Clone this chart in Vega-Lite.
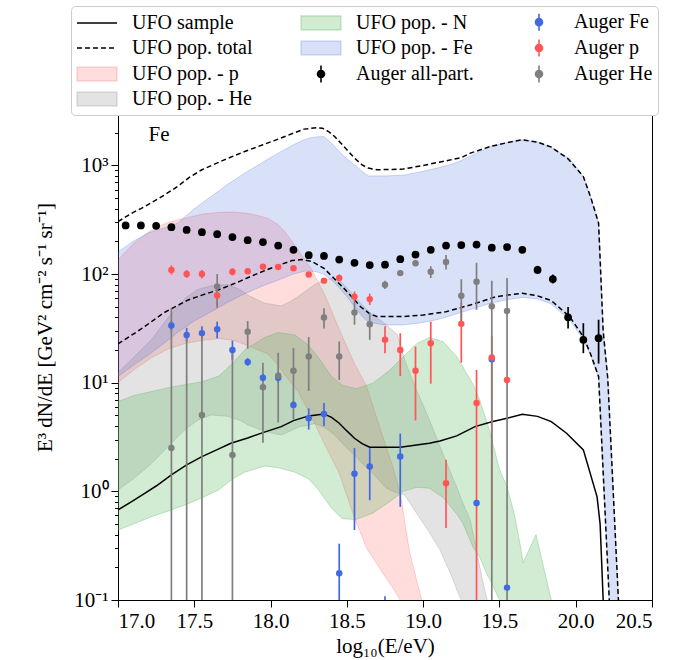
{
  "$schema": "https://vega.github.io/schema/vega-lite/v6.json",
  "width": 534,
  "height": 500,
  "autosize": {"type": "none"},
  "padding": {"left": 118, "top": 100, "right": 21, "bottom": 60},
  "background": "white",
  "config": {
    "font": "Liberation Serif",
    "view": {"stroke": "black", "strokeWidth": 1},
    "axis": {"grid": false, "domainColor": "black", "domainWidth": 1, "tickColor": "black", "tickWidth": 1, "labelColor": "black", "titleColor": "black", "labelFont": "Liberation Serif", "titleFont": "Liberation Serif", "labelFontSize": 21, "titleFontSize": 21, "titleFontWeight": "normal"}
  },
  "datasets": {
    "bands": [
      {"band": "p", "E": 17.0, "lo": 10, "hi": 135},
      {"band": "p", "E": 17.1, "lo": 13, "hi": 190},
      {"band": "p", "E": 17.22, "lo": 17, "hi": 255},
      {"band": "p", "E": 17.33, "lo": 20.5, "hi": 300},
      {"band": "p", "E": 17.44, "lo": 23, "hi": 327},
      {"band": "p", "E": 17.55, "lo": 24.5, "hi": 355},
      {"band": "p", "E": 17.66, "lo": 25.5, "hi": 370},
      {"band": "p", "E": 17.76, "lo": 24.5, "hi": 372},
      {"band": "p", "E": 17.85, "lo": 22, "hi": 362},
      {"band": "p", "E": 17.92, "lo": 20, "hi": 345},
      {"band": "p", "E": 17.98, "lo": 18.5, "hi": 327},
      {"band": "p", "E": 18.05, "lo": 14.5, "hi": 285},
      {"band": "p", "E": 18.1, "lo": 11.5, "hi": 240},
      {"band": "p", "E": 18.18, "lo": 8.3, "hi": 167},
      {"band": "p", "E": 18.27, "lo": 4.8, "hi": 110},
      {"band": "p", "E": 18.36, "lo": 2.6, "hi": 62},
      {"band": "p", "E": 18.45, "lo": 1.47, "hi": 31},
      {"band": "p", "E": 18.55, "lo": 0.57, "hi": 15},
      {"band": "p", "E": 18.63, "lo": 0.3, "hi": 9.2},
      {"band": "p", "E": 18.72, "lo": 0.19, "hi": 3.7},
      {"band": "p", "E": 18.8, "lo": 0.13, "hi": 1.7},
      {"band": "p", "E": 18.85, "lo": 0.1, "hi": 0.96},
      {"band": "p", "E": 18.91, "lo": 0.07, "hi": 0.28},
      {"band": "p", "E": 18.99, "lo": 0.05, "hi": 0.1},
      {"band": "p", "E": 19.01, "lo": 0.05, "hi": 0.07},
      {"band": "He", "E": 17.0, "lo": 1.03, "hi": 12.4},
      {"band": "He", "E": 17.1, "lo": 1.3, "hi": 17},
      {"band": "He", "E": 17.22, "lo": 1.8, "hi": 25},
      {"band": "He", "E": 17.33, "lo": 2.6, "hi": 40},
      {"band": "He", "E": 17.44, "lo": 3.7, "hi": 60},
      {"band": "He", "E": 17.52, "lo": 4.5, "hi": 72},
      {"band": "He", "E": 17.61, "lo": 5.05, "hi": 78},
      {"band": "He", "E": 17.72, "lo": 4.9, "hi": 80},
      {"band": "He", "E": 17.8, "lo": 4.5, "hi": 72},
      {"band": "He", "E": 17.85, "lo": 4.1, "hi": 64},
      {"band": "He", "E": 17.96, "lo": 3.57, "hi": 54},
      {"band": "He", "E": 18.07, "lo": 3.3, "hi": 51},
      {"band": "He", "E": 18.13, "lo": 3.6, "hi": 56},
      {"band": "He", "E": 18.18, "lo": 3.9, "hi": 62},
      {"band": "He", "E": 18.26, "lo": 4.1, "hi": 75},
      {"band": "He", "E": 18.29, "lo": 4.2, "hi": 80},
      {"band": "He", "E": 18.35, "lo": 3.9, "hi": 88},
      {"band": "He", "E": 18.41, "lo": 3.4, "hi": 92},
      {"band": "He", "E": 18.45, "lo": 2.97, "hi": 88},
      {"band": "He", "E": 18.5, "lo": 2.5, "hi": 75},
      {"band": "He", "E": 18.56, "lo": 2.09, "hi": 60},
      {"band": "He", "E": 18.6, "lo": 1.8, "hi": 52},
      {"band": "He", "E": 18.67, "lo": 1.47, "hi": 42},
      {"band": "He", "E": 18.75, "lo": 1.1, "hi": 35},
      {"band": "He", "E": 18.78, "lo": 1.03, "hi": 32},
      {"band": "He", "E": 18.83, "lo": 0.97, "hi": 28},
      {"band": "He", "E": 18.88, "lo": 0.92, "hi": 16},
      {"band": "He", "E": 18.95, "lo": 0.65, "hi": 9},
      {"band": "He", "E": 19.0, "lo": 0.51, "hi": 6.2},
      {"band": "He", "E": 19.04, "lo": 0.42, "hi": 4.6},
      {"band": "He", "E": 19.11, "lo": 0.29, "hi": 2.6},
      {"band": "He", "E": 19.2, "lo": 0.15, "hi": 1.27},
      {"band": "He", "E": 19.22, "lo": 0.124, "hi": 1.1},
      {"band": "He", "E": 19.25, "lo": 0.1, "hi": 0.85},
      {"band": "He", "E": 19.31, "lo": 0.06, "hi": 0.54},
      {"band": "He", "E": 19.39, "lo": 0.05, "hi": 0.15},
      {"band": "He", "E": 19.42, "lo": 0.05, "hi": 0.1},
      {"band": "He", "E": 19.44, "lo": 0.05, "hi": 0.07},
      {"band": "N", "E": 17.0, "lo": 0.44, "hi": 6.7},
      {"band": "N", "E": 17.1, "lo": 0.5, "hi": 7.6},
      {"band": "N", "E": 17.22, "lo": 0.585, "hi": 8.3},
      {"band": "N", "E": 17.33, "lo": 0.66, "hi": 9.0},
      {"band": "N", "E": 17.44, "lo": 0.75, "hi": 9.6},
      {"band": "N", "E": 17.55, "lo": 0.87, "hi": 10.2},
      {"band": "N", "E": 17.66, "lo": 1.03, "hi": 11.5},
      {"band": "N", "E": 17.75, "lo": 1.3, "hi": 15},
      {"band": "N", "E": 17.83, "lo": 1.5, "hi": 20},
      {"band": "N", "E": 17.96, "lo": 1.71, "hi": 26},
      {"band": "N", "E": 18.05, "lo": 1.65, "hi": 29},
      {"band": "N", "E": 18.16, "lo": 1.5, "hi": 27.5},
      {"band": "N", "E": 18.25, "lo": 1.3, "hi": 22},
      {"band": "N", "E": 18.31, "lo": 1.05, "hi": 17.4},
      {"band": "N", "E": 18.4, "lo": 0.7, "hi": 11.4},
      {"band": "N", "E": 18.47, "lo": 0.56, "hi": 9.5},
      {"band": "N", "E": 18.56, "lo": 0.55, "hi": 8.8},
      {"band": "N", "E": 18.67, "lo": 0.63, "hi": 9.9},
      {"band": "N", "E": 18.78, "lo": 0.8, "hi": 13},
      {"band": "N", "E": 18.87, "lo": 1.0, "hi": 17.4},
      {"band": "N", "E": 18.96, "lo": 1.09, "hi": 23},
      {"band": "N", "E": 19.04, "lo": 1.07, "hi": 26},
      {"band": "N", "E": 19.13, "lo": 0.88, "hi": 23.9},
      {"band": "N", "E": 19.22, "lo": 0.62, "hi": 17.4},
      {"band": "N", "E": 19.26, "lo": 0.51, "hi": 14},
      {"band": "N", "E": 19.33, "lo": 0.3, "hi": 9.5},
      {"band": "N", "E": 19.37, "lo": 0.25, "hi": 7},
      {"band": "N", "E": 19.42, "lo": 0.17, "hi": 4.24},
      {"band": "N", "E": 19.44, "lo": 0.153, "hi": 3.4},
      {"band": "N", "E": 19.5, "lo": 0.1, "hi": 1.6},
      {"band": "N", "E": 19.55, "lo": 0.07, "hi": 1.1},
      {"band": "N", "E": 19.6, "lo": 0.05, "hi": 0.6},
      {"band": "N", "E": 19.64, "lo": 0.05, "hi": 0.3},
      {"band": "N", "E": 19.655, "lo": 0.05, "hi": 0.22},
      {"band": "N", "E": 19.74, "lo": 0.05, "hi": 0.4},
      {"band": "N", "E": 19.84, "lo": 0.05, "hi": 0.1},
      {"band": "N", "E": 19.86, "lo": 0.05, "hi": 0.07},
      {"band": "Fe", "E": 17.0, "lo": 11.4, "hi": 160},
      {"band": "Fe", "E": 17.1, "lo": 14.5, "hi": 200},
      {"band": "Fe", "E": 17.2, "lo": 18, "hi": 240},
      {"band": "Fe", "E": 17.3, "lo": 23, "hi": 265},
      {"band": "Fe", "E": 17.39, "lo": 29, "hi": 294},
      {"band": "Fe", "E": 17.5, "lo": 37, "hi": 400},
      {"band": "Fe", "E": 17.61, "lo": 45, "hi": 517},
      {"band": "Fe", "E": 17.72, "lo": 55, "hi": 670},
      {"band": "Fe", "E": 17.83, "lo": 66, "hi": 849},
      {"band": "Fe", "E": 17.94, "lo": 77, "hi": 1050},
      {"band": "Fe", "E": 18.05, "lo": 88, "hi": 1297},
      {"band": "Fe", "E": 18.15, "lo": 100, "hi": 1550},
      {"band": "Fe", "E": 18.22, "lo": 106, "hi": 1720},
      {"band": "Fe", "E": 18.25, "lo": 107, "hi": 1783},
      {"band": "Fe", "E": 18.3, "lo": 105, "hi": 1830},
      {"band": "Fe", "E": 18.35, "lo": 99, "hi": 1845},
      {"band": "Fe", "E": 18.41, "lo": 86, "hi": 1550},
      {"band": "Fe", "E": 18.46, "lo": 72, "hi": 1297},
      {"band": "Fe", "E": 18.5, "lo": 62, "hi": 1150},
      {"band": "Fe", "E": 18.55, "lo": 50, "hi": 1013},
      {"band": "Fe", "E": 18.6, "lo": 41, "hi": 880},
      {"band": "Fe", "E": 18.64, "lo": 36, "hi": 801},
      {"band": "Fe", "E": 18.75, "lo": 34, "hi": 801},
      {"band": "Fe", "E": 18.87, "lo": 34, "hi": 812},
      {"band": "Fe", "E": 18.98, "lo": 35.5, "hi": 870},
      {"band": "Fe", "E": 19.09, "lo": 38, "hi": 945},
      {"band": "Fe", "E": 19.17, "lo": 41, "hi": 1010},
      {"band": "Fe", "E": 19.24, "lo": 44, "hi": 1090},
      {"band": "Fe", "E": 19.35, "lo": 49, "hi": 1297},
      {"band": "Fe", "E": 19.44, "lo": 54, "hi": 1493},
      {"band": "Fe", "E": 19.55, "lo": 58, "hi": 1620},
      {"band": "Fe", "E": 19.65, "lo": 61, "hi": 1721},
      {"band": "Fe", "E": 19.75, "lo": 59, "hi": 1640},
      {"band": "Fe", "E": 19.84, "lo": 53, "hi": 1472},
      {"band": "Fe", "E": 19.96, "lo": 38, "hi": 1150},
      {"band": "Fe", "E": 20.05, "lo": 25, "hi": 790},
      {"band": "Fe", "E": 20.1, "lo": 17.5, "hi": 500},
      {"band": "Fe", "E": 20.15, "lo": 11, "hi": 294},
      {"band": "Fe", "E": 20.18, "lo": 1.4, "hi": 30},
      {"band": "Fe", "E": 20.21, "lo": 0.2, "hi": 11},
      {"band": "Fe", "E": 20.22, "lo": 0.1, "hi": 6},
      {"band": "Fe", "E": 20.24, "lo": 0.05, "hi": 1.5},
      {"band": "Fe", "E": 20.28, "lo": 0.05, "hi": 0.1},
      {"band": "Fe", "E": 20.3, "lo": 0.05, "hi": 0.07}
    ],
    "total": [
      {"b": "hi", "E": 17.0, "v": 304}, {"b": "hi", "E": 17.1, "v": 370}, {"b": "hi", "E": 17.175, "v": 417},
      {"b": "hi", "E": 17.3, "v": 530}, {"b": "hi", "E": 17.39, "v": 640}, {"b": "hi", "E": 17.47, "v": 780},
      {"b": "hi", "E": 17.55, "v": 912}, {"b": "hi", "E": 17.7, "v": 1130}, {"b": "hi", "E": 17.83, "v": 1343},
      {"b": "hi", "E": 17.95, "v": 1550}, {"b": "hi", "E": 18.05, "v": 1746}, {"b": "hi", "E": 18.15, "v": 1980},
      {"b": "hi", "E": 18.22, "v": 2158}, {"b": "hi", "E": 18.3, "v": 2220}, {"b": "hi", "E": 18.34, "v": 2200},
      {"b": "hi", "E": 18.38, "v": 2050}, {"b": "hi", "E": 18.42, "v": 1845}, {"b": "hi", "E": 18.48, "v": 1500},
      {"b": "hi", "E": 18.55, "v": 1167}, {"b": "hi", "E": 18.6, "v": 1010}, {"b": "hi", "E": 18.64, "v": 945},
      {"b": "hi", "E": 18.7, "v": 912}, {"b": "hi", "E": 18.87, "v": 925}, {"b": "hi", "E": 19.0, "v": 1000},
      {"b": "hi", "E": 19.15, "v": 1102}, {"b": "hi", "E": 19.25, "v": 1180}, {"b": "hi", "E": 19.31, "v": 1297},
      {"b": "hi", "E": 19.44, "v": 1493}, {"b": "hi", "E": 19.55, "v": 1620}, {"b": "hi", "E": 19.65, "v": 1721},
      {"b": "hi", "E": 19.75, "v": 1640}, {"b": "hi", "E": 19.84, "v": 1472}, {"b": "hi", "E": 19.95, "v": 1150},
      {"b": "hi", "E": 20.05, "v": 790}, {"b": "hi", "E": 20.1, "v": 500}, {"b": "hi", "E": 20.15, "v": 294},
      {"b": "hi", "E": 20.18, "v": 30}, {"b": "hi", "E": 20.21, "v": 11}, {"b": "hi", "E": 20.28, "v": 0.1},
      {"b": "hi", "E": 20.3, "v": 0.07},
      {"b": "lo", "E": 17.0, "v": 22.8}, {"b": "lo", "E": 17.1, "v": 28}, {"b": "lo", "E": 17.175, "v": 32.9},
      {"b": "lo", "E": 17.3, "v": 44}, {"b": "lo", "E": 17.46, "v": 57.8}, {"b": "lo", "E": 17.55, "v": 64},
      {"b": "lo", "E": 17.66, "v": 71.6}, {"b": "lo", "E": 17.8, "v": 86}, {"b": "lo", "E": 17.92, "v": 102},
      {"b": "lo", "E": 18.05, "v": 120}, {"b": "lo", "E": 18.14, "v": 133}, {"b": "lo", "E": 18.2, "v": 136},
      {"b": "lo", "E": 18.27, "v": 131}, {"b": "lo", "E": 18.35, "v": 113}, {"b": "lo", "E": 18.42, "v": 90},
      {"b": "lo", "E": 18.49, "v": 71.6}, {"b": "lo", "E": 18.55, "v": 58}, {"b": "lo", "E": 18.59, "v": 50},
      {"b": "lo", "E": 18.65, "v": 43}, {"b": "lo", "E": 18.7, "v": 40.6}, {"b": "lo", "E": 18.87, "v": 40.6},
      {"b": "lo", "E": 19.0, "v": 42}, {"b": "lo", "E": 19.15, "v": 45}, {"b": "lo", "E": 19.31, "v": 52},
      {"b": "lo", "E": 19.48, "v": 62}, {"b": "lo", "E": 19.65, "v": 66.7}, {"b": "lo", "E": 19.75, "v": 63},
      {"b": "lo", "E": 19.84, "v": 57}, {"b": "lo", "E": 19.96, "v": 40.6}, {"b": "lo", "E": 20.05, "v": 26.5},
      {"b": "lo", "E": 20.1, "v": 18}, {"b": "lo", "E": 20.15, "v": 11.4}, {"b": "lo", "E": 20.22, "v": 0.1},
      {"b": "lo", "E": 20.24, "v": 0.07}
    ],
    "sample": [
      {"E": 17.0, "v": 0.674}, {"E": 17.1, "v": 0.82}, {"E": 17.175, "v": 0.96}, {"E": 17.25, "v": 1.12},
      {"E": 17.35, "v": 1.42}, {"E": 17.45, "v": 1.75}, {"E": 17.55, "v": 2.09}, {"E": 17.65, "v": 2.42},
      {"E": 17.74, "v": 2.77}, {"E": 17.85, "v": 3.1}, {"E": 17.95, "v": 3.47}, {"E": 18.07, "v": 3.94},
      {"E": 18.15, "v": 4.48}, {"E": 18.25, "v": 4.95}, {"E": 18.3, "v": 5.05}, {"E": 18.35, "v": 5.16},
      {"E": 18.4, "v": 4.8}, {"E": 18.45, "v": 4.24}, {"E": 18.5, "v": 3.6}, {"E": 18.55, "v": 3.08},
      {"E": 18.6, "v": 2.75}, {"E": 18.65, "v": 2.55}, {"E": 18.85, "v": 2.55}, {"E": 19.04, "v": 2.77},
      {"E": 19.11, "v": 2.91}, {"E": 19.22, "v": 3.24}, {"E": 19.34, "v": 3.94}, {"E": 19.45, "v": 4.38},
      {"E": 19.55, "v": 4.71}, {"E": 19.65, "v": 5.13}, {"E": 19.75, "v": 4.9}, {"E": 19.84, "v": 4.38},
      {"E": 19.94, "v": 3.43}, {"E": 20.05, "v": 2.41}, {"E": 20.14, "v": 0.89}, {"E": 20.16, "v": 0.5},
      {"E": 20.18, "v": 0.1}, {"E": 20.19, "v": 0.07}
    ],
    "auger": [
      {"s": "Auger all-part.", "E": 17.05, "v": 280, "lo": 280, "hi": 280},
      {"s": "Auger all-part.", "E": 17.15, "v": 280, "lo": 280, "hi": 280},
      {"s": "Auger all-part.", "E": 17.25, "v": 278, "lo": 278, "hi": 278},
      {"s": "Auger all-part.", "E": 17.35, "v": 270, "lo": 270, "hi": 270},
      {"s": "Auger all-part.", "E": 17.45, "v": 255, "lo": 255, "hi": 255},
      {"s": "Auger all-part.", "E": 17.55, "v": 243, "lo": 243, "hi": 243},
      {"s": "Auger all-part.", "E": 17.65, "v": 233, "lo": 233, "hi": 233},
      {"s": "Auger all-part.", "E": 17.75, "v": 219, "lo": 219, "hi": 219},
      {"s": "Auger all-part.", "E": 17.85, "v": 205, "lo": 205, "hi": 205},
      {"s": "Auger all-part.", "E": 17.95, "v": 197, "lo": 197, "hi": 197},
      {"s": "Auger all-part.", "E": 18.05, "v": 183, "lo": 183, "hi": 183},
      {"s": "Auger all-part.", "E": 18.15, "v": 167, "lo": 167, "hi": 167},
      {"s": "Auger all-part.", "E": 18.25, "v": 149, "lo": 149, "hi": 149},
      {"s": "Auger all-part.", "E": 18.35, "v": 147, "lo": 147, "hi": 147},
      {"s": "Auger all-part.", "E": 18.45, "v": 136, "lo": 136, "hi": 136},
      {"s": "Auger all-part.", "E": 18.55, "v": 127, "lo": 127, "hi": 127},
      {"s": "Auger all-part.", "E": 18.65, "v": 121, "lo": 121, "hi": 121},
      {"s": "Auger all-part.", "E": 18.75, "v": 122, "lo": 122, "hi": 122},
      {"s": "Auger all-part.", "E": 18.85, "v": 137, "lo": 137, "hi": 137},
      {"s": "Auger all-part.", "E": 18.95, "v": 151, "lo": 151, "hi": 151},
      {"s": "Auger all-part.", "E": 19.05, "v": 167, "lo": 167, "hi": 167},
      {"s": "Auger all-part.", "E": 19.15, "v": 183, "lo": 183, "hi": 183},
      {"s": "Auger all-part.", "E": 19.25, "v": 185, "lo": 185, "hi": 185},
      {"s": "Auger all-part.", "E": 19.35, "v": 187, "lo": 187, "hi": 187},
      {"s": "Auger all-part.", "E": 19.45, "v": 175, "lo": 175, "hi": 175},
      {"s": "Auger all-part.", "E": 19.55, "v": 177, "lo": 177, "hi": 177},
      {"s": "Auger all-part.", "E": 19.65, "v": 167, "lo": 167, "hi": 167},
      {"s": "Auger all-part.", "E": 19.75, "v": 109, "lo": 100, "hi": 119},
      {"s": "Auger all-part.", "E": 19.85, "v": 90, "lo": 82, "hi": 99},
      {"s": "Auger all-part.", "E": 19.95, "v": 40, "lo": 31.5, "hi": 49.8},
      {"s": "Auger all-part.", "E": 20.05, "v": 24.8, "lo": 18.7, "hi": 35.3},
      {"s": "Auger all-part.", "E": 20.15, "v": 25.7, "lo": 15, "hi": 38},
      {"s": "Auger Fe", "E": 17.35, "v": 33.6, "lo": 30, "hi": 37},
      {"s": "Auger Fe", "E": 17.45, "v": 27.5, "lo": 24, "hi": 32},
      {"s": "Auger Fe", "E": 17.55, "v": 28.6, "lo": 25, "hi": 33},
      {"s": "Auger Fe", "E": 17.65, "v": 31.1, "lo": 25.6, "hi": 36.5},
      {"s": "Auger Fe", "E": 17.75, "v": 20, "lo": 16.2, "hi": 24.4},
      {"s": "Auger Fe", "E": 17.85, "v": 15.5, "lo": 14.3, "hi": 16.8},
      {"s": "Auger Fe", "E": 17.95, "v": 11.1, "lo": 10.3, "hi": 12},
      {"s": "Auger Fe", "E": 18.05, "v": 11.1, "lo": 10, "hi": 12.3},
      {"s": "Auger Fe", "E": 18.15, "v": 6.25, "lo": 5.8, "hi": 6.8},
      {"s": "Auger Fe", "E": 18.25, "v": 4.71, "lo": 3.7, "hi": 5.8},
      {"s": "Auger Fe", "E": 18.35, "v": 5.16, "lo": 4.0, "hi": 6.5},
      {"s": "Auger Fe", "E": 18.45, "v": 0.176, "lo": 0.05, "hi": 0.33},
      {"s": "Auger Fe", "E": 18.55, "v": 1.45, "lo": 0.44, "hi": 2.5},
      {"s": "Auger Fe", "E": 18.65, "v": 1.69, "lo": 0.83, "hi": 2.5},
      {"s": "Auger Fe", "E": 18.75, "v": 0.05, "lo": 0.03, "hi": 0.108},
      {"s": "Auger Fe", "E": 18.85, "v": 2.09, "lo": 0.72, "hi": 3.4},
      {"s": "Auger Fe", "E": 19.35, "v": 0.78, "lo": 0.78, "hi": 0.78},
      {"s": "Auger Fe", "E": 19.45, "v": 16.4, "lo": 16.4, "hi": 16.4},
      {"s": "Auger Fe", "E": 19.55, "v": 0.13, "lo": 0.13, "hi": 0.13},
      {"s": "Auger p", "E": 17.35, "v": 109, "lo": 99, "hi": 120},
      {"s": "Auger p", "E": 17.45, "v": 100, "lo": 92, "hi": 109},
      {"s": "Auger p", "E": 17.55, "v": 100, "lo": 91, "hi": 109},
      {"s": "Auger p", "E": 17.65, "v": 63.4, "lo": 48.5, "hi": 71.6},
      {"s": "Auger p", "E": 17.75, "v": 105, "lo": 97, "hi": 113},
      {"s": "Auger p", "E": 17.85, "v": 106, "lo": 100, "hi": 112},
      {"s": "Auger p", "E": 17.95, "v": 117, "lo": 111, "hi": 123},
      {"s": "Auger p", "E": 18.05, "v": 116, "lo": 110, "hi": 122},
      {"s": "Auger p", "E": 18.15, "v": 113, "lo": 108, "hi": 119},
      {"s": "Auger p", "E": 18.25, "v": 99, "lo": 95, "hi": 103},
      {"s": "Auger p", "E": 18.35, "v": 87, "lo": 83, "hi": 92},
      {"s": "Auger p", "E": 18.45, "v": 92, "lo": 86, "hi": 99},
      {"s": "Auger p", "E": 18.55, "v": 62, "lo": 55, "hi": 69},
      {"s": "Auger p", "E": 18.65, "v": 58.8, "lo": 52, "hi": 66},
      {"s": "Auger p", "E": 18.75, "v": 24.8, "lo": 18.7, "hi": 33},
      {"s": "Auger p", "E": 18.85, "v": 20, "lo": 11.5, "hi": 28.5},
      {"s": "Auger p", "E": 18.95, "v": 12.9, "lo": 4.5, "hi": 21.5},
      {"s": "Auger p", "E": 19.05, "v": 23.1, "lo": 9.8, "hi": 36.5},
      {"s": "Auger p", "E": 19.15, "v": 1.19, "lo": 0.46, "hi": 1.95},
      {"s": "Auger p", "E": 19.25, "v": 34.8, "lo": 15.3, "hi": 54},
      {"s": "Auger p", "E": 19.35, "v": 6.5, "lo": 0.05, "hi": 13.1},
      {"s": "Auger p", "E": 19.45, "v": 17.1, "lo": 0.233, "hi": 27},
      {"s": "Auger p", "E": 19.55, "v": 10.6, "lo": 10.6, "hi": 10.6},
      {"s": "Auger He", "E": 17.35, "v": 2.51, "lo": 0.05, "hi": 48.5},
      {"s": "Auger He", "E": 17.45, "v": 0.05, "lo": 0.03, "hi": 28.6},
      {"s": "Auger He", "E": 17.55, "v": 5.05, "lo": 0.05, "hi": 29.8},
      {"s": "Auger He", "E": 17.65, "v": 76.8, "lo": 50, "hi": 100},
      {"s": "Auger He", "E": 17.75, "v": 2.16, "lo": 0.05, "hi": 20},
      {"s": "Auger He", "E": 17.85, "v": 29.4, "lo": 20.6, "hi": 37},
      {"s": "Auger He", "E": 17.95, "v": 9.1, "lo": 2.8, "hi": 15.3},
      {"s": "Auger He", "E": 18.05, "v": 11.6, "lo": 4.3, "hi": 18.9},
      {"s": "Auger He", "E": 18.15, "v": 12.9, "lo": 4.6, "hi": 20.8},
      {"s": "Auger He", "E": 18.25, "v": 17.4, "lo": 8.4, "hi": 26.4},
      {"s": "Auger He", "E": 18.35, "v": 39.8, "lo": 31.5, "hi": 48.5},
      {"s": "Auger He", "E": 18.45, "v": 17.4, "lo": 10.6, "hi": 24},
      {"s": "Auger He", "E": 18.55, "v": 44.3, "lo": 34.2, "hi": 55.6},
      {"s": "Auger He", "E": 18.65, "v": 34.6, "lo": 24.8, "hi": 44},
      {"s": "Auger He", "E": 18.75, "v": 79.6, "lo": 73, "hi": 87},
      {"s": "Auger He", "E": 18.85, "v": 102, "lo": 96, "hi": 108},
      {"s": "Auger He", "E": 18.95, "v": 126, "lo": 119, "hi": 133},
      {"s": "Auger He", "E": 19.05, "v": 105, "lo": 92, "hi": 118},
      {"s": "Auger He", "E": 19.15, "v": 129, "lo": 110, "hi": 150},
      {"s": "Auger He", "E": 19.25, "v": 63, "lo": 34.8, "hi": 89.6},
      {"s": "Auger He", "E": 19.35, "v": 85, "lo": 46.8, "hi": 127},
      {"s": "Auger He", "E": 19.45, "v": 50.6, "lo": 0.05, "hi": 87},
      {"s": "Auger He", "E": 19.55, "v": 45.8, "lo": 0.05, "hi": 92}
    ]
  },
  "layer": [
    {
      "data": {"name": "bands"},
      "transform": [{"filter": "datum.band == 'p'"}],
      "mark": {"type": "area", "fillOpacity": 1, "clip": true},
      "encoding": {
        "x": {"field": "E", "type": "quantitative", "scale": {"domain": [17, 20.5], "nice": false, "zero": false},
          "axis": {"values": [17, 17.5, 18, 18.5, 19, 19.5, 20, 20.5], "format": ".1f", "tickSize": 7, "labelPadding": 3, "title": "log₁₀(E/eV)", "titlePadding": 4}},
        "y": {"field": "lo", "type": "quantitative", "scale": {"type": "log", "domain": [0.1, 4000], "nice": false},
          "axis": {"values": [0.1, 0.2, 0.3, 0.4, 0.5, 0.6, 0.7, 0.8, 0.9, 1, 2, 3, 4, 5, 6, 7, 8, 9, 10, 20, 30, 40, 50, 60, 70, 80, 90, 100, 200, 300, 400, 500, 600, 700, 800, 900, 1000, 2000, 3000],
            "labelExpr": "datum.value == 0.1 ? '10⁻¹' : datum.value == 1 ? '10⁰' : datum.value == 10 ? '10¹' : datum.value == 100 ? '10²' : datum.value == 1000 ? '10³' : ''",
            "tickSize": {"condition": {"test": "indexof([0.1, 1, 10, 100, 1000], datum.value) >= 0", "value": 7}, "value": 3.5},
            "labelPadding": 3, "labelBound": false, "labelOverlap": false,
            "title": "E³ dN/dE [GeV² cm⁻² s⁻¹ sr⁻¹]", "titleX": -73, "titleY": 227, "titleBaseline": "middle", "titleAngle": -90}},
        "y2": {"field": "hi"},
        "color": {"datum": "UFO pop. - p",
          "scale": {"domain": ["UFO sample", "UFO pop. total", "UFO pop. - p", "Auger He", "UFO pop. - N", "UFO pop. - Fe", "Auger all-part.", "UFO pop. - He", "Auger Fe", "Auger p"],
                    "range": ["#000000", "#000000", "rgba(255,85,85,0.2)", "#7f7f7f", "rgba(76,175,80,0.25)", "rgba(65,105,225,0.2)", "#000000", "rgba(128,128,128,0.22)", "#4169e1", "#ff5555"]},
          "legend": {
            "orient": "none", "legendX": -47, "legendY": -94, "columns": 3, "title": null,
            "symbolSize": 400, "labelOffset": 34, "columnPadding": 44, "rowPadding": 2,
            "labelFont": "Liberation Serif", "labelFontSize": 20, "labelColor": "black", "labelLimit": 300,
            "padding": 5, "strokeColor": "#cccccc", "fillColor": "white", "cornerRadius": 4, "zindex": 5,
            "symbolType": {"expr": "indexof(datum.label, 'pop. -') >= 0 ? 'M-1,-0.7H3V0.7H-1Z' : (indexof(datum.label, 'Auger') == 0 ? 'M1,-0.85V0.85M0.65,0A0.35,0.35 0 1,1 1.35,0A0.35,0.35 0 1,1 0.65,0Z' : 'M-1,0H3')"},
            "symbolFillColor": {"expr": "scale('color', datum.value)"},
            "symbolStrokeColor": {"expr": "scale('color', datum.value)"},
            "symbolDash": {"expr": "datum.label == 'UFO pop. total' ? [5, 3] : []"},
            "symbolStrokeWidth": 1.6,
            "symbolOpacity": 1
          }
        }
      }
    },
    {
      "data": {"name": "bands"},
      "transform": [{"filter": "datum.band == 'p'"}, {"fold": ["lo", "hi"], "as": ["bound", "val"]}],
      "mark": {"type": "line", "stroke": "rgba(255,85,85,0.25)", "strokeWidth": 1, "clip": true},
      "encoding": {
        "x": {"field": "E", "type": "quantitative"},
        "y": {"field": "val", "type": "quantitative"},
        "detail": {"field": "bound"}
      }
    },
    {
      "data": {"name": "bands"},
      "transform": [{"filter": "datum.band == 'He'"}],
      "mark": {"type": "area", "fillOpacity": 1, "stroke": "rgba(128,128,128,0.25)", "strokeWidth": 1, "clip": true},
      "encoding": {
        "x": {"field": "E", "type": "quantitative"},
        "y": {"field": "lo", "type": "quantitative"},
        "y2": {"field": "hi"},
        "color": {"datum": "UFO pop. - He", "legend": null}
      }
    },
    {
      "data": {"name": "bands"},
      "transform": [{"filter": "datum.band == 'N'"}],
      "mark": {"type": "area", "fillOpacity": 1, "stroke": "rgba(76,175,80,0.3)", "strokeWidth": 1, "clip": true},
      "encoding": {
        "x": {"field": "E", "type": "quantitative"},
        "y": {"field": "lo", "type": "quantitative"},
        "y2": {"field": "hi"},
        "color": {"datum": "UFO pop. - N", "legend": null}
      }
    },
    {
      "data": {"name": "bands"},
      "transform": [{"filter": "datum.band == 'Fe'"}],
      "mark": {"type": "area", "fillOpacity": 1, "stroke": "rgba(65,105,225,0.25)", "strokeWidth": 1, "clip": true},
      "encoding": {
        "x": {"field": "E", "type": "quantitative"},
        "y": {"field": "lo", "type": "quantitative"},
        "y2": {"field": "hi"},
        "color": {"datum": "UFO pop. - Fe", "legend": null}
      }
    },
    {
      "data": {"name": "sample"},
      "mark": {"type": "line", "strokeWidth": 1.5, "clip": true},
      "encoding": {
        "x": {"field": "E", "type": "quantitative"},
        "y": {"field": "v", "type": "quantitative"},
        "color": {"datum": "UFO sample", "legend": null}
      }
    },
    {
      "data": {"name": "total"},
      "mark": {"type": "line", "strokeWidth": 1.5, "strokeDash": [5, 3], "clip": true},
      "encoding": {
        "x": {"field": "E", "type": "quantitative"},
        "y": {"field": "v", "type": "quantitative"},
        "detail": {"field": "b"},
        "color": {"datum": "UFO pop. total", "legend": null}
      }
    },
    {
      "data": {"name": "auger"},
      "mark": {"type": "rule", "strokeWidth": 1.7, "clip": true},
      "encoding": {
        "x": {"field": "E", "type": "quantitative"},
        "y": {"field": "lo", "type": "quantitative"},
        "y2": {"field": "hi"},
        "color": {"field": "s", "type": "nominal", "legend": null}
      }
    },
    {
      "data": {"name": "auger"},
      "mark": {"type": "circle", "opacity": 1, "clip": true},
      "encoding": {
        "x": {"field": "E", "type": "quantitative"},
        "y": {"field": "v", "type": "quantitative"},
        "size": {"condition": {"test": "datum.s == 'Auger all-part.'", "value": 60}, "value": 42},
        "color": {"field": "s", "type": "nominal", "legend": null}
      }
    },
    {
      "data": {"values": [{"E": 17.2, "v": 1900, "t": "Fe"}]},
      "mark": {"type": "text", "align": "left", "baseline": "middle", "fontSize": 21, "font": "Liberation Serif", "color": "black"},
      "encoding": {
        "x": {"field": "E", "type": "quantitative"},
        "y": {"field": "v", "type": "quantitative"},
        "text": {"field": "t"}
      }
    }
  ]
}
